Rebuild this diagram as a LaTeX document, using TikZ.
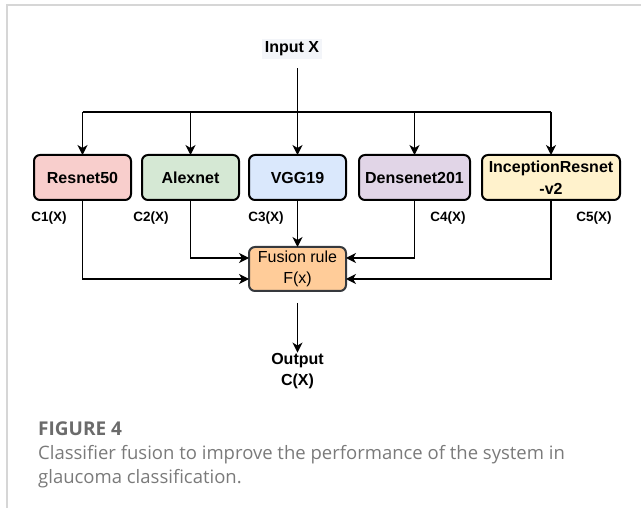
\documentclass[tikz,border=0pt]{standalone}
\usepackage{fontspec}
\setmainfont{Liberation Sans}
\newfontfamily\capfont{Open Sans}
\usepackage{xcolor}
\definecolor{fusframe}{HTML}{D6D6D6}
\definecolor{fusinbg}{HTML}{F3F5F9}
\definecolor{fusres}{HTML}{F8CECC}
\definecolor{fusalex}{HTML}{D5E8D4}
\definecolor{fusvgg}{HTML}{DAE8FC}
\definecolor{fusdense}{HTML}{E1D5E7}
\definecolor{fusincep}{HTML}{FFF2CC}
\definecolor{fusrule}{HTML}{FFCC99}
\definecolor{fusruleline}{HTML}{36393D}
\definecolor{fushead}{HTML}{6B6B6B}
\definecolor{fuscap}{HTML}{7A7A7A}
\usepackage{tikz}
\usetikzlibrary{arrows.meta,positioning,calc}
\tikzset{
  fusnet/.style={draw,line width=2pt,rounded corners=6pt,align=center,font=\bfseries\fontsize{16}{22}\selectfont,minimum height=45pt,inner sep=2pt,outer sep=0pt},
  fusbox/.style={draw=fusruleline,line width=2pt,rounded corners=6pt,fill=fusrule,align=center,font=\fontsize{16}{21}\selectfont,minimum width=97pt,minimum height=44pt,inner sep=2pt,outer sep=0pt},
  fusflow/.style={-{Stealth[length=10pt,width=10pt,inset=3pt]},line width=1.3pt},
  fusline/.style={line width=1.3pt},
  fuslabel/.style={font=\bfseries\fontsize{13.5}{16}\selectfont,inner sep=1pt},
  fusterm/.style={font=\bfseries\fontsize{16}{21}\selectfont,align=center,inner sep=1pt},
}

\begin{document}
\begin{tikzpicture}[x=1pt,y=-1pt,node distance=45pt and 11pt]
\useasboundingbox (0,0) rectangle (641,508);
% page frame
\draw[fusframe,line width=2pt] (7,508) -- (7,5) -- (641,5);

\node[fusterm,fill=fusinbg,inner sep=3pt] (input) at (292,49) {Input X};

% classifiers
\node[fusnet,fill=fusres,minimum width=97pt] (resnet) at (82.5,177.5) {Resnet50};
\node[fusnet,fill=fusalex,minimum width=97pt,right=11pt of resnet] (alexnet) {Alexnet};
\node[fusnet,fill=fusvgg,minimum width=97pt,right=10pt of alexnet] (vgg) {VGG19};
\node[fusnet,fill=fusdense,minimum width=111pt,right=13pt of vgg] (dense) {Densenet201};
\node[fusnet,fill=fusincep,minimum width=138pt,right=12pt of dense] (incep) {InceptionResnet\\-v2};

\node[fusbox] (fusion) at (297.5,269) {Fusion rule\\F(x)};
\node[fusterm] (output) at (297.5,371.5) {Output\\C(X)};

% input fan-out
\coordinate (split) at (vgg.north |- 0,112);
\draw[fusflow] ($(input.south -| vgg.north)+(0,9)$) -- (vgg.north);
\draw[fusline] (resnet.north |- split) -- (incep.north |- split);
\foreach \net in {resnet,alexnet,dense,incep}
  \draw[fusflow] (\net.north |- split) -- (\net.north);

% classifier outputs
\node[fuslabel] (c1) at (49,218) {C1(X)};
\node[fuslabel] (c2) at (151,218) {C2(X)};
\node[fuslabel] (c3) at (266,218) {C3(X)};
\node[fuslabel] (c4) at (448,218) {C4(X)};
\node[fuslabel] (c5) at (594,218) {C5(X)};
\draw[fusflow] (vgg.south) -- (fusion.north);
\draw[fusflow] (alexnet.south) |- ([yshift=11pt]fusion.west);
\draw[fusflow] (resnet.south) |- ([yshift=-10pt]fusion.west);
\draw[fusflow] (dense.south) |- ([yshift=11pt]fusion.east);
\draw[fusflow] (incep.south) |- ([yshift=-10pt]fusion.east);
\draw[fusflow] ($(fusion.south -| output.north)+(0,12)$) -- (output.north);

% caption
\node[anchor=west,inner sep=0pt,text=fushead,font=\capfont\bfseries\fontsize{19}{22}\selectfont] (fighead) at (38,429) {FIGURE 4};
\node[anchor=north west,inner sep=0pt,align=left,text=fuscap,font=\capfont\fontsize{18.5}{24}\selectfont] (figcap) at (38,445) {Classifier fusion to improve the performance of the system in\\glaucoma classification.};
\end{tikzpicture}
\end{document}
